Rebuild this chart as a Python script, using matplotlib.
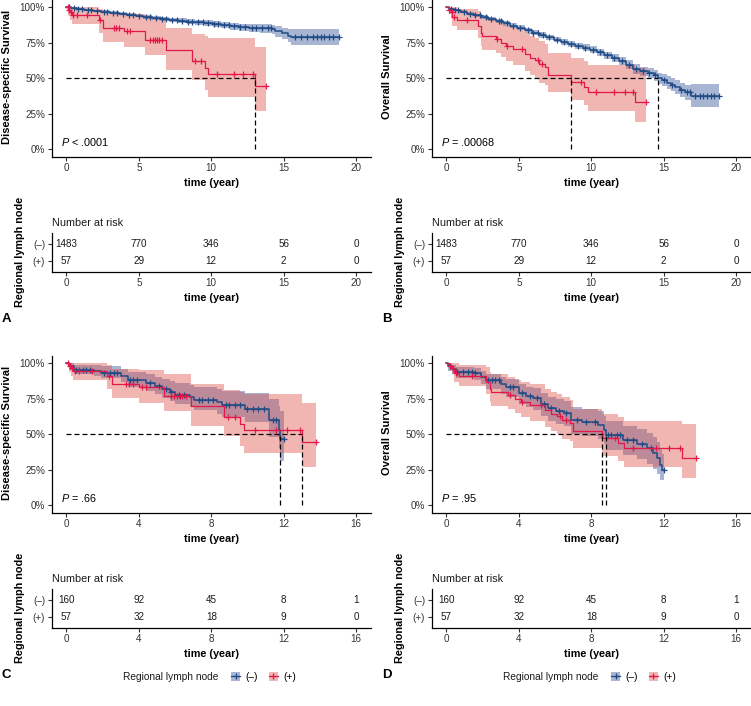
import numpy as np
import matplotlib
matplotlib.use("Agg")
import matplotlib.pyplot as plt
from matplotlib.patches import Patch
from matplotlib.lines import Line2D

plt.rcParams['font.family'] = ['Liberation Sans', 'DejaVu Sans']
plt.rcParams['mathtext.fontset'] = 'custom'
plt.rcParams['mathtext.it'] = 'Liberation Sans:italic'
plt.rcParams['mathtext.rm'] = 'Liberation Sans'

# ---- data ----
# (+) group, disease-specific survival (same 57 patients in A and C)
red_dss_t = [0, 0.12, 0.25, 0.35, 2.25, 2.5, 4.0, 5.4, 6.9, 8.7, 9.6, 9.8, 13.0, 13.8]
red_dss_s = [1.0, 0.982, 0.965, 0.947, 0.906, 0.85, 0.83, 0.77, 0.70, 0.62, 0.575, 0.532, 0.443, 0.443]
red_dss_lo = [1.0, 0.94, 0.91, 0.88, 0.82, 0.755, 0.72, 0.66, 0.555, 0.485, 0.415, 0.37, 0.27, 0.27]
red_dss_hi = [1.0, 1.0, 1.0, 1.0, 0.99, 0.96, 0.95, 0.92, 0.85, 0.81, 0.80, 0.78, 0.72, 0.72]
red_dss_cens = [0.08, 0.18, 0.3, 0.45, 0.7, 1.4, 2.35, 3.3, 3.45, 3.65, 4.2, 4.4, 5.75, 5.95, 6.1,
                6.25, 6.4, 6.6, 8.9, 9.3, 10.4, 11.6, 12.2, 12.9, 13.8]

# (+) group, overall survival (B and D)
red_os_t = [0, 0.15, 0.3, 0.4, 0.7, 2.2, 2.38, 2.47, 3.4, 3.8, 4.1, 4.6, 5.45, 5.8, 6.1, 6.4, 6.8,
            7.0, 8.6, 9.5, 9.8, 13.0, 13.8]
red_os_s = [1.0, 0.982, 0.965, 0.93, 0.91, 0.866, 0.82, 0.80, 0.778, 0.75, 0.73, 0.705, 0.672, 0.64,
            0.625, 0.60, 0.578, 0.52, 0.473, 0.438, 0.403, 0.333, 0.333]
red_os_lo = [1.0, 0.95, 0.92, 0.87, 0.84, 0.78, 0.73, 0.70, 0.68, 0.65, 0.62, 0.59, 0.55, 0.52, 0.50,
             0.47, 0.45, 0.40, 0.35, 0.31, 0.27, 0.19, 0.19]
red_os_hi = [1.0, 1.0, 1.0, 1.0, 0.99, 0.97, 0.94, 0.92, 0.90, 0.88, 0.87, 0.85, 0.82, 0.80, 0.78,
             0.76, 0.74, 0.68, 0.64, 0.62, 0.59, 0.57, 0.57]
red_os_cens = [0.2, 0.35, 0.5, 1.4, 3.5, 4.2, 5.2, 6.3, 6.6, 9.3, 10.3, 11.6, 12.3, 12.9, 13.8]

# (-) group, full cohort, disease-specific survival (A)
blue_a_t = [0, 0.3, 0.7, 1.2, 1.8, 2.4, 3.0, 3.6, 4.2, 4.8, 5.3, 5.9, 6.5, 7.1, 7.7, 8.3, 8.9, 9.5,
            10.1, 10.7, 11.3, 11.9, 12.6, 13.4, 14.2, 14.4, 14.9, 15.3, 15.5, 18.8]
blue_a_s = [1.0, 0.992, 0.986, 0.981, 0.975, 0.969, 0.962, 0.955, 0.948, 0.94, 0.932, 0.924, 0.917,
            0.91, 0.904, 0.898, 0.892, 0.886, 0.88, 0.873, 0.866, 0.86, 0.855, 0.85, 0.845, 0.83,
            0.815, 0.80, 0.79, 0.79]
blue_a_lo = [1.0, 0.987, 0.98, 0.974, 0.967, 0.96, 0.952, 0.944, 0.936, 0.927, 0.918, 0.909, 0.901,
             0.893, 0.886, 0.879, 0.872, 0.865, 0.858, 0.85, 0.842, 0.834, 0.827, 0.82, 0.812, 0.793,
             0.774, 0.755, 0.735, 0.735]
blue_a_hi = [1.0, 0.996, 0.991, 0.987, 0.982, 0.977, 0.971, 0.965, 0.959, 0.952, 0.945, 0.938, 0.932,
             0.926, 0.921, 0.916, 0.911, 0.906, 0.901, 0.895, 0.889, 0.884, 0.881, 0.878, 0.876, 0.865,
             0.853, 0.845, 0.848, 0.848]
blue_a_cens = [0.2, 0.5, 0.8, 1.1, 1.5, 1.7, 2.1, 2.6, 2.8, 3.2, 3.5, 3.9, 4.3, 4.6, 5.0, 5.5, 5.8, 6.2,
               6.6, 6.9, 7.3, 7.6, 8.0, 8.4, 8.7, 9.1, 9.4, 9.8, 10.2, 10.5, 10.9, 11.2, 11.6, 12.0,
               12.3, 12.8, 13.1, 13.5, 13.9, 14.1, 15.8, 16.2, 16.6, 17.0, 17.3, 17.6, 17.8, 18.1,
               18.4, 18.8]

# (-) group, full cohort, overall survival (B)
blue_b_t = [0, 0.2, 0.5, 0.9, 1.4, 1.9, 2.4, 2.9, 3.4, 3.9, 4.4, 4.9, 5.4, 5.9, 6.4, 6.9, 7.4, 7.9,
            8.4, 8.9, 9.4, 9.9, 10.4, 10.9, 11.4, 11.9, 12.4, 12.9, 13.4, 13.9, 14.3, 14.6, 14.9,
            15.2, 15.5, 15.8, 16.1, 16.5, 16.9, 18.8]
blue_b_s = [1.0, 0.99, 0.98, 0.968, 0.955, 0.943, 0.93, 0.915, 0.9, 0.885, 0.87, 0.855, 0.838, 0.82,
            0.804, 0.787, 0.772, 0.756, 0.742, 0.728, 0.716, 0.7, 0.683, 0.662, 0.64, 0.618, 0.595,
            0.565, 0.548, 0.535, 0.52, 0.50, 0.485, 0.47, 0.455, 0.44, 0.42, 0.40, 0.373, 0.373]
blue_b_lo = [1.0, 0.984, 0.972, 0.958, 0.944, 0.931, 0.917, 0.901, 0.885, 0.869, 0.854, 0.838, 0.82,
             0.802, 0.785, 0.767, 0.752, 0.735, 0.72, 0.706, 0.693, 0.676, 0.658, 0.636, 0.613, 0.59,
             0.565, 0.533, 0.514, 0.499, 0.482, 0.46, 0.443, 0.426, 0.409, 0.392, 0.37, 0.345, 0.298,
             0.298]
blue_b_hi = [1.0, 0.996, 0.988, 0.978, 0.966, 0.955, 0.943, 0.929, 0.915, 0.901, 0.886, 0.872, 0.856,
             0.838, 0.823, 0.807, 0.792, 0.777, 0.764, 0.75, 0.739, 0.724, 0.708, 0.688, 0.667, 0.646,
             0.625, 0.597, 0.582, 0.571, 0.558, 0.54, 0.527, 0.514, 0.501, 0.488, 0.47, 0.455, 0.46,
             0.46]
blue_b_cens = [0.3, 0.6, 0.8, 1.2, 1.6, 2.0, 2.3, 2.7, 3.1, 3.6, 3.8, 4.2, 4.6, 5.1, 5.6, 6.0, 6.3,
               6.7, 7.1, 7.6, 8.1, 8.6, 9.1, 9.6, 10.1, 10.6, 11.1, 11.6, 12.1, 12.6, 13.1, 13.6,
               14.0, 14.4, 15.0, 15.6, 16.2, 16.6, 16.8, 17.2, 17.5, 17.7, 18.0, 18.3, 18.5, 18.8]

# (-) group, matched cohort, disease-specific survival (C)
blue_c_t = [0, 0.15, 0.4, 1.5, 1.9, 3.0, 3.4, 4.4, 4.9, 5.3, 5.7, 6.0, 6.8, 7.05, 8.3, 8.6, 9.85,
            11.2, 11.75, 11.8, 12.0]
blue_c_s = [1.0, 0.98, 0.953, 0.945, 0.934, 0.91, 0.883, 0.86, 0.84, 0.817, 0.796, 0.778, 0.761,
            0.742, 0.724, 0.705, 0.677, 0.60, 0.53, 0.466, 0.466]
blue_c_lo = [1.0, 0.955, 0.92, 0.91, 0.895, 0.865, 0.835, 0.805, 0.782, 0.756, 0.732, 0.71, 0.69,
             0.668, 0.645, 0.622, 0.585, 0.48, 0.40, 0.315, 0.315]
blue_c_hi = [1.0, 1.0, 0.99, 0.985, 0.978, 0.96, 0.94, 0.92, 0.905, 0.888, 0.872, 0.858, 0.845,
             0.83, 0.818, 0.805, 0.79, 0.75, 0.70, 0.66, 0.66]
blue_c_cens = [0.5, 0.7, 0.9, 1.1, 1.3, 2.1, 2.4, 2.6, 2.8, 3.5, 3.7, 3.9, 4.6, 5.1, 5.5, 5.8, 6.2,
               6.5, 7.3, 7.5, 7.8, 8.1, 8.8, 9.0, 9.3, 9.6, 10.0, 10.3, 10.6, 10.9, 11.4, 11.6, 12.0]

# (-) group, matched cohort, overall survival (D)
blue_d_t = [0, 0.1, 0.3, 0.5, 1.5, 1.9, 2.2, 3.0, 3.3, 4.0, 4.4, 4.8, 5.2, 5.6, 6.05, 6.5, 6.9, 7.5,
            8.4, 8.7, 8.8, 9.75, 10.55, 11.1, 11.4, 11.65, 11.8, 11.9, 12.0]
blue_d_s = [1.0, 0.98, 0.96, 0.941, 0.93, 0.905, 0.878, 0.85, 0.83, 0.79, 0.77, 0.754, 0.714, 0.684,
            0.665, 0.649, 0.60, 0.585, 0.567, 0.53, 0.494, 0.46, 0.433, 0.403, 0.368, 0.333, 0.286,
            0.25, 0.25]
blue_d_lo = [1.0, 0.945, 0.92, 0.895, 0.88, 0.85, 0.82, 0.785, 0.76, 0.715, 0.69, 0.672, 0.628,
             0.595, 0.575, 0.556, 0.505, 0.488, 0.468, 0.43, 0.392, 0.355, 0.325, 0.292, 0.255,
             0.22, 0.18, 0.18, 0.18]
blue_d_hi = [1.0, 1.0, 0.99, 0.975, 0.968, 0.948, 0.925, 0.9, 0.885, 0.85, 0.835, 0.822, 0.788,
             0.762, 0.745, 0.732, 0.69, 0.677, 0.66, 0.625, 0.593, 0.56, 0.537, 0.51, 0.48, 0.445,
             0.40, 0.36, 0.36]
blue_d_cens = [0.6, 0.9, 1.2, 1.4, 1.6, 2.3, 2.5, 2.7, 2.9, 3.5, 3.7, 4.2, 4.6, 5.0, 5.4, 5.8, 6.2,
               6.6, 7.2, 7.7, 8.2, 8.9, 9.1, 9.4, 9.6, 10.0, 10.3, 10.8, 11.3, 12.0]

# numbers at risk
risk_times_full = [0, 5, 10, 15, 20]
risk_neg_full = [1483, 770, 346, 56, 0]
risk_pos_full = [57, 29, 12, 2, 0]
risk_times_matched = [0, 4, 8, 12, 16]
risk_neg_matched = [160, 92, 45, 8, 1]
risk_pos_matched = [57, 32, 18, 9, 0]

group_labels = ['(\u2013)', '(+)']
p_values = ['$P$ < .0001', '$P$ = .00068', '$P$ = .66', '$P$ = .95']

# ---- style ----
BLUE = '#1F4B86'
RED = '#E2184B'
BLUE_FILL = '#3F5FA0'
RED_FILL = '#DC4A3E'
TICK_C = '#333333'
DASH = (0, (4, 2.4))
W, H = 751, 706

fig = plt.figure(figsize=(W / 100, H / 100), dpi=100)


def px_axes(l, t, r, b):
    return fig.add_axes([l / W, 1 - b / H, (r - l) / W, (b - t) / H])


def surv_at(t, s, x):
    idx = np.searchsorted(np.asarray(t), np.asarray(x), side='right') - 1
    return np.asarray(s)[idx]


def style_axis(ax, xmax, xstep):
    for sp in ['top', 'right']:
        ax.spines[sp].set_visible(False)
    for sp in ['left', 'bottom']:
        ax.spines[sp].set_linewidth(0.9)
    ax.tick_params(length=3, width=0.8, color=TICK_C, labelcolor=TICK_C, labelsize=7.1, pad=2)
    ax.set_xlim(-xmax * 0.05, xmax * 1.05)
    ax.set_xticks(np.arange(0, xmax + 0.1, xstep))
    ax.set_xlabel('time (year)', fontsize=7.8, fontweight='bold', labelpad=3)


def draw_km(ax, curves, xmax, xstep, pval, ptx):
    for c in curves:
        ax.fill_between(c['t'], c['lo'], c['hi'], step='post', color=c['fill'],
                        alpha=c['alpha'], lw=0)
    medians = []
    for c in curves:
        ax.step(c['t'], c['s'], where='post', color=c['line'], lw=c['lw'])
        ax.plot(c['cens'], surv_at(c['t'], c['s'], c['cens']), ls='none', marker='+',
                ms=4.5, mew=0.9, color=c['line'])
        below = [ti for ti, si in zip(c['t'], c['s']) if si <= 0.5]
        if below:
            medians.append(below[0])
    if medians:
        ax.plot([0, max(medians)], [0.5, 0.5], color='black', ls=DASH, lw=0.9)
        for m in medians:
            ax.plot([m, m], [0, 0.5], color='black', ls=DASH, lw=0.9)
    style_axis(ax, xmax, xstep)
    ax.set_ylim(-0.05, 1.05)
    ax.set_yticks([0, 0.25, 0.5, 0.75, 1.0])
    ax.set_yticklabels(['0%', '25%', '50%', '75%', '100%'])
    ax.text(ptx, 0.05, pval, fontsize=7.8, va='center', ha='left')


def draw_risk(ax, times, neg, pos, xmax, xstep):
    for ti, n1, n2 in zip(times, neg, pos):
        ax.text(ti, 2, str(n1), ha='center', va='center', fontsize=7.1, color='#1a1a1a')
        ax.text(ti, 1, str(n2), ha='center', va='center', fontsize=7.1, color='#1a1a1a')
    style_axis(ax, xmax, xstep)
    ax.set_ylim(0.35, 2.65)
    ax.set_yticks([2, 1])
    ax.set_yticklabels(group_labels)
    ax.text(0, 1.13, 'Number at risk', transform=ax.transAxes, fontsize=7.8, ha='left',
            va='bottom', color='#1a1a1a')


def curve(t, s, lo, hi, cens, neg):
    if neg:
        return dict(t=t, s=s, lo=lo, hi=hi, cens=cens, line=BLUE, fill=BLUE_FILL, alpha=0.45,
                    lw=1.1)
    return dict(t=t, s=s, lo=lo, hi=hi, cens=cens, line=RED, fill=RED_FILL, alpha=0.4, lw=0.9)


red_dss = curve(red_dss_t, red_dss_s, red_dss_lo, red_dss_hi, red_dss_cens, False)
red_os = curve(red_os_t, red_os_s, red_os_lo, red_os_hi, red_os_cens, False)

panels = [
    # letter, left, top offset, curves, xmax, step, ylabel, risk data, p
    ('A', 52, 0, [curve(blue_a_t, blue_a_s, blue_a_lo, blue_a_hi, blue_a_cens, True), red_dss],
     20, 5, 'Disease-specific Survival', risk_times_full, risk_neg_full, risk_pos_full, p_values[0]),
    ('B', 432, 0, [curve(blue_b_t, blue_b_s, blue_b_lo, blue_b_hi, blue_b_cens, True), red_os],
     20, 5, 'Overall Survival', risk_times_full, risk_neg_full, risk_pos_full, p_values[1]),
    ('C', 52, 356, [curve(blue_c_t, blue_c_s, blue_c_lo, blue_c_hi, blue_c_cens, True), red_dss],
     16, 4, 'Disease-specific Survival', risk_times_matched, risk_neg_matched, risk_pos_matched,
     p_values[2]),
    ('D', 432, 356, [curve(blue_d_t, blue_d_s, blue_d_lo, blue_d_hi, blue_d_cens, True), red_os],
     16, 4, 'Overall Survival', risk_times_matched, risk_neg_matched, risk_pos_matched,
     p_values[3]),
]

for letter, left, top, curves, xmax, xstep, ylab, rt, rn, rp, pv in panels:
    right = left + 318.5
    ax = px_axes(left, top, right, top + 156.5)
    draw_km(ax, curves, xmax, xstep, pv, -0.0175 * xmax)
    rax = px_axes(left, top + 233, right, top + 271.5)
    draw_risk(rax, rt, rn, rp, xmax, xstep)
    fig.text((left - 45) / W, 1 - (top + 77) / H, ylab, rotation=90, ha='center', va='center',
             fontsize=8, fontweight='bold')
    fig.text((left - 32) / W, 1 - (top + 252) / H, 'Regional lymph node', rotation=90,
             ha='center', va='center', fontsize=7.8, fontweight='bold')
    fig.text((left - 50) / W, 1 - (top + 319) / H, letter, ha='left', va='center',
             fontsize=9.5, fontweight='bold')
    if top > 0:
        # legend at the bottom of C and D
        lx = left + 71
        fig.text(lx / W, 1 - (top + 321) / H, 'Regional lymph node', ha='left', va='center',
                 fontsize=7.3, color='#1a1a1a')
        handles = [(Patch(facecolor=c['fill'], alpha=c['alpha'], lw=0),
                    Line2D([], [], color=c['line'], lw=0.9, marker='+', ms=4.5, mew=0.9))
                   for c in curves]
        fig.legend(handles, group_labels, ncol=2, frameon=False, fontsize=7.3,
                   loc='center left', bbox_to_anchor=((lx + 108) / W, 1 - (top + 321) / H),
                   handlelength=0.9, handleheight=0.9, handletextpad=0.5, columnspacing=1.1,
                   borderpad=0, borderaxespad=0)

fig.savefig('out.png', dpi=100)
